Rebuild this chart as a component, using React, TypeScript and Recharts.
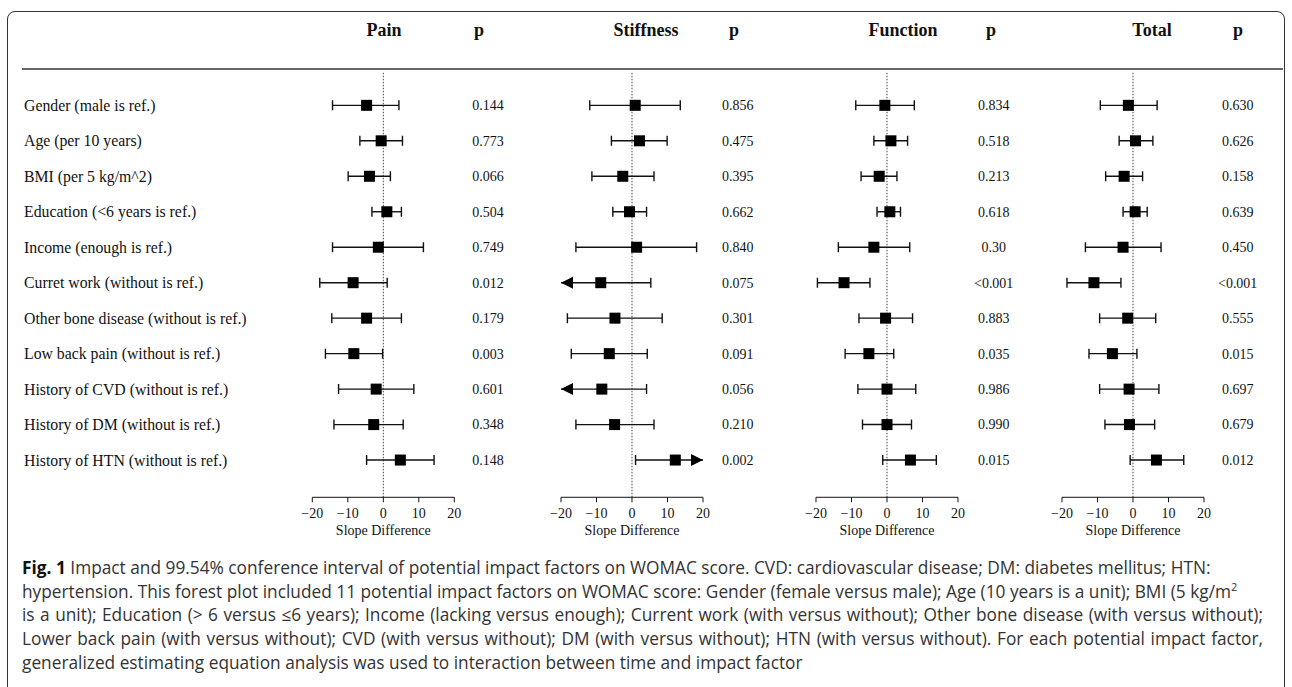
import React from "react";
import { ScatterChart, Scatter, XAxis, YAxis, ReferenceLine } from "recharts";

const rowLabels = [
  "Gender (male is ref.)",
  "Age (per 10 years)",
  "BMI (per 5 kg/m^2)",
  "Education (<6 years is ref.)",
  "Income (enough is ref.)",
  "Curret work (without is ref.)",
  "Other bone disease (without is ref.)",
  "Low back pain (without is ref.)",
  "History of CVD (without is ref.)",
  "History of DM (without is ref.)",
  "History of HTN (without is ref.)",
];

const xTicks = [-20, -10, 0, 10, 20];

// slope difference estimates and 99.54% CI per outcome
const painEst = [-4.7, -0.6, -3.9, 1.0, -1.4, -8.5, -4.7, -8.3, -2.0, -2.7, 4.8];
const painLo = [-14.3, -6.6, -9.9, -3.2, -14.3, -17.9, -14.5, -16.3, -12.6, -13.9, -4.7];
const painHi = [4.4, 5.4, 2.0, 5.1, 11.3, 1.1, 5.1, -0.2, 8.6, 5.6, 14.3];
const painP = ["0.144", "0.773", "0.066", "0.504", "0.749", "0.012", "0.179", "0.003", "0.601", "0.348", "0.148"];

const stiffEst = [0.9, 2.1, -2.6, -0.7, 1.3, -8.8, -4.8, -6.4, -8.5, -4.9, 12.2];
const stiffLo = [-11.9, -5.8, -11.3, -5.4, -15.8, -23.0, -18.2, -17.1, -22.0, -15.8, 1.0];
const stiffHi = [13.6, 9.9, 6.2, 4.1, 18.2, 5.3, 8.5, 4.3, 4.1, 6.2, 23.0];
const stiffP = ["0.856", "0.475", "0.395", "0.662", "0.840", "0.075", "0.301", "0.091", "0.056", "0.210", "0.002"];

const funcEst = [-0.6, 1.1, -2.2, 0.8, -3.7, -12.1, -0.4, -5.1, 0.0, 0.0, 6.6];
const funcLo = [-8.8, -3.7, -7.3, -2.8, -13.7, -19.6, -7.9, -11.8, -8.2, -6.9, -1.2];
const funcHi = [7.7, 5.8, 2.8, 3.8, 6.4, -4.8, 7.2, 1.9, 8.1, 6.9, 13.9];
const funcP = ["0.834", "0.518", "0.213", "0.618", "0.30", "<0.001", "0.883", "0.035", "0.986", "0.990", "0.015"];

const totalEst = [-1.3, 0.7, -2.5, 0.6, -2.8, -11.0, -1.5, -5.8, -1.1, -1.0, 6.6];
const totalLo = [-9.2, -3.9, -7.7, -2.8, -13.4, -18.6, -9.4, -12.4, -9.4, -7.9, -0.8];
const totalHi = [6.8, 5.6, 2.7, 4.0, 7.9, -3.4, 6.4, 1.1, 7.3, 6.1, 14.3];
const totalP = ["0.630", "0.626", "0.158", "0.639", "0.450", "<0.001", "0.555", "0.015", "0.697", "0.679", "0.012"];

const panels = [
  { title: "Pain", est: painEst, lo: painLo, hi: painHi, p: painP, plotLeft: 312.3, pCol: 488, pHead: 479, titleX: 384 },
  { title: "Stiffness", est: stiffEst, lo: stiffLo, hi: stiffHi, p: stiffP, plotLeft: 560.7, pCol: 737.5, pHead: 734, titleX: 646 },
  { title: "Function", est: funcEst, lo: funcLo, hi: funcHi, p: funcP, plotLeft: 816.3, pCol: 994, pHead: 991, titleX: 903 },
  { title: "Total", est: totalEst, lo: totalLo, hi: totalHi, p: totalP, plotLeft: 1062.3, pCol: 1238, pHead: 1238, titleX: 1152 },
];

const PLOT_W = 142;
const PLOT_H = 424.6;
const CHART_TOP = 60;
const M_TOP = 12.7;
const X_AXIS_H = 40;
const M_BOTTOM = 10;
const XMIN = -20;
const XMAX = 20;
const ROW_DOMAIN: [number, number] = [-0.92, 11.05];
const serif = '"Liberation Serif", "Times New Roman", serif';

const Square = (props: any) => (
  <rect x={props.cx - 5.5} y={props.cy - 5.5} width={11} height={11} fill="#000" />
);
const Cap = (props: any) => (
  <line x1={props.cx} x2={props.cx} y1={props.cy - 5} y2={props.cy + 5} stroke="#111" strokeWidth={1.4} />
);
const ArrowLeft = (props: any) => (
  <polygon
    points={`${props.cx},${props.cy} ${props.cx + 12},${props.cy - 6} ${props.cx + 12},${props.cy + 6}`}
    fill="#000"
  />
);
const ArrowRight = (props: any) => (
  <polygon
    points={`${props.cx},${props.cy} ${props.cx - 12},${props.cy - 6} ${props.cx - 12},${props.cy + 6}`}
    fill="#000"
  />
);
const Nothing = () => <g />;

function Panel({ panel, index }: { panel: (typeof panels)[number]; index: number }) {
  const first = index === 0;
  const chartLeft = first ? 0 : panel.plotLeft - 25;
  const marginLeft = first ? 0 : 25;
  const leftAxisW = first ? panel.plotLeft : 0;
  const plotRight = panel.plotLeft + PLOT_W;
  const rightW = panel.pCol + 40 - plotRight;
  const width = panel.plotLeft - chartLeft + PLOT_W + rightW;
  const height = M_TOP + PLOT_H + X_AXIS_H + M_BOTTOM;

  const points = panel.est.map((v, i) => ({ x: v, y: i }));
  const caps = [
    ...panel.lo.map((v, i) => ({ x: v, y: i })).filter((d) => d.x >= XMIN),
    ...panel.hi.map((v, i) => ({ x: v, y: i })).filter((d) => d.x <= XMAX),
  ];
  const leftArrows = panel.lo.map((v, i) => ({ x: XMIN, y: i, v })).filter((d) => d.v < XMIN);
  const rightArrows = panel.hi.map((v, i) => ({ x: XMAX, y: i, v })).filter((d) => d.v > XMAX);

  const pColLocal = panel.pCol - chartLeft;

  return (
    <div style={{ position: "absolute", left: chartLeft, top: CHART_TOP }}>
      <ScatterChart
        width={width}
        height={height}
        margin={{ top: M_TOP, right: 0, bottom: M_BOTTOM, left: marginLeft }}
      >
        <XAxis
          type="number"
          dataKey="x"
          domain={[XMIN, XMAX]}
          ticks={xTicks}
          allowDataOverflow
          tickSize={5}
          tickMargin={6}
          height={X_AXIS_H}
          stroke="#111"
          tick={{ fill: "#111", fontSize: 14, fontFamily: serif }}
          tickFormatter={(v: number) => String(v).replace("-", "\u2212")}
          label={{ value: "Slope Difference", position: "insideBottom", offset: 2, fill: "#111", fontSize: 14, fontFamily: serif }}
        />
        <YAxis
          yAxisId="rows"
          type="number"
          dataKey="y"
          domain={ROW_DOMAIN}
          reversed
          ticks={rowLabels.map((_, i) => i)}
          hide={!first}
          width={leftAxisW}
          axisLine={false}
          tickLine={false}
          tick={(props: any) => (
            <text x={24} y={props.y} dy="0.35em" textAnchor="start" fill="#111" fontSize={15.8} fontFamily={serif}>
              {rowLabels[props.payload.value]}
            </text>
          )}
        />
        <YAxis
          yAxisId="p"
          orientation="right"
          type="number"
          dataKey="y"
          domain={ROW_DOMAIN}
          reversed
          ticks={panel.p.map((_, i) => i)}
          width={rightW}
          axisLine={false}
          tickLine={false}
          tick={(props: any) => (
            <text x={pColLocal} y={props.y} dy="0.35em" textAnchor="middle" fill="#111" fontSize={14} fontFamily={serif}>
              {panel.p[props.payload.value]}
            </text>
          )}
        />
        <ReferenceLine yAxisId="rows" x={0} stroke="#444" strokeDasharray="1.5 1.5" />
        {panel.est.map((_, i) => (
          <ReferenceLine
            key={i}
            yAxisId="rows"
            segment={[
              { x: Math.max(panel.lo[i], XMIN), y: i },
              { x: Math.min(panel.hi[i], XMAX), y: i },
            ]}
            stroke="#111"
            strokeWidth={1.4}
          />
        ))}
        <Scatter yAxisId="p" data={points} shape={Nothing} isAnimationActive={false} />
        <Scatter yAxisId="rows" data={caps} shape={Cap} isAnimationActive={false} />
        <Scatter yAxisId="rows" data={leftArrows} shape={ArrowLeft} isAnimationActive={false} />
        <Scatter yAxisId="rows" data={rightArrows} shape={ArrowRight} isAnimationActive={false} />
        <Scatter yAxisId="rows" data={points} shape={Square} isAnimationActive={false} />
      </ScatterChart>
    </div>
  );
}

const captionLines = [
  "Impact and 99.54% conference interval of potential impact factors on WOMAC score. CVD: cardiovascular disease; DM: diabetes mellitus; HTN:",
  "hypertension. This forest plot included 11 potential impact factors on WOMAC score: Gender (female versus male); Age (10 years is a unit); BMI (5 kg/m",
  "is a unit); Education (> 6 versus \u22646 years); Income (lacking versus enough); Current work (with versus without); Other bone disease (with versus without);",
  "Lower back pain (with versus without); CVD (with versus without); DM (with versus without); HTN (with versus without). For each potential impact factor,",
  "generalized estimating equation analysis was used to interaction between time and impact factor",
];

export default function App() {
  return (
    <div style={{ position: "absolute", left: 0, top: 0, width: 1292, height: 687, overflow: "hidden", background: "#fff" }}>
      <div
        style={{
          position: "absolute",
          left: 7,
          top: 11,
          width: 1278,
          height: 720,
          border: "1.5px solid #333",
          borderRadius: 8,
          boxSizing: "border-box",
        }}
      />
      {panels.map((p) => (
        <React.Fragment key={p.title}>
          <div style={{ position: "absolute", left: p.titleX - 60, width: 120, top: 20, textAlign: "center", fontFamily: serif, fontWeight: 700, fontSize: 18, color: "#111" }}>
            {p.title}
          </div>
          <div style={{ position: "absolute", left: p.pHead - 30, width: 60, top: 20, textAlign: "center", fontFamily: serif, fontWeight: 700, fontSize: 18, color: "#111" }}>
            p
          </div>
        </React.Fragment>
      ))}
      <div style={{ position: "absolute", left: 22, top: 68, width: 1261, height: 2, background: "#666" }} />
      {panels.map((p, i) => (
        <Panel key={p.title} panel={p} index={i} />
      ))}
      <div
        style={{
          position: "absolute",
          left: 22,
          top: 556,
          width: 1241,
          fontFamily: '"Open Sans", sans-serif',
          fontSize: 17.3,
          lineHeight: "23.7px",
          color: "#333",
        }}
      >
        {captionLines.map((line, i) => (
          <div
            key={i}
            style={{
              whiteSpace: i === 2 || i === 3 ? "normal" : "pre",
              textAlign: "left",
              textAlignLast: i === 2 || i === 3 ? "justify" : "auto",
            }}
          >
            {i === 0 && <b style={{ color: "#111" }}>Fig. 1 </b>}
            {line}
            {i === 1 && <sup style={{ fontSize: 11, lineHeight: 0 }}>2</sup>}
          </div>
        ))}
      </div>
    </div>
  );
}
